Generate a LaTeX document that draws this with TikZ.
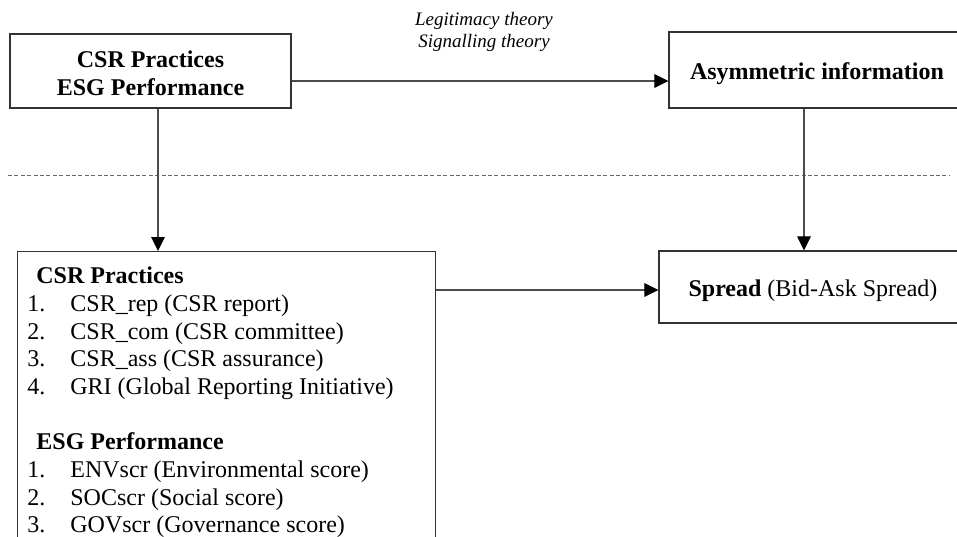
\documentclass[tikz,border=0pt]{standalone}
\usepackage{fontspec}
\setmainfont{Liberation Serif}
\usetikzlibrary{arrows.meta,calc}
\newcommand{\lowerby}[2]{\raisebox{-#1}[\height][\depth]{#2}}
\begin{document}
\begin{tikzpicture}[x=0.5pt,y=-0.5pt,
  box/.style={draw=black!80, line width=0.65pt, inner sep=0pt, font=\fontsize{12}{14}\selectfont},
  conn/.style={draw=black!70, line width=0.6pt, -{Triangle[length=7pt,width=6.8pt,fill=black,color=black]}},
  lbl/.style={font=\fontsize{12}{14}\selectfont, inner sep=0pt, anchor=base west},
  head/.style={lbl, font=\fontsize{12}{14}\selectfont\bfseries},
  theory/.style={font=\fontsize{9.5}{11}\selectfont\itshape, align=center, inner sep=0pt},
  sep/.style={draw=black!60, line width=0.5pt, dash pattern=on 2pt off 1.2pt}
]
\useasboundingbox (0,0) rectangle (957,536);
\clip (0,0) rectangle (957,536);

% boxes
\node[box, minimum width=140.5pt, minimum height=37pt, align=center, font=\fontsize{12}{14}\selectfont\bfseries] (src) at (150.5,71) {\lowerby{1.2pt}{CSR Practices}\\\lowerby{1.2pt}{ESG Performance}};
\node[box, minimum width=148pt, minimum height=38pt, font=\fontsize{12}{14}\selectfont\bfseries] (asy) at (817,70) {\lowerby{2pt}{Asymmetric information}};
\node[box, minimum width=154pt, minimum height=36pt] (spr) at (813,287) {\lowerby{2pt}{\textbf{Spread} (Bid-Ask Spread)}};
\node[box, minimum width=209pt, minimum height=160pt, anchor=north west] (big) at (17,251) {};

% theory label
\node[theory] (th) at (484,32) {Legitimacy theory\\Signalling theory};

% list contents
\node[head] (h1) at (36,283) {CSR Practices};
\node[lbl] (n1) at (27,311) {1.};  \node[lbl] (t1) at (70,311) {CSR\_rep (CSR report)};
\node[lbl] (n2) at (27,339) {2.};  \node[lbl] (t2) at (70,339) {CSR\_com (CSR committee)};
\node[lbl] (n3) at (27,366) {3.};  \node[lbl] (t3) at (70,366) {CSR\_ass (CSR assurance)};
\node[lbl] (n4) at (27,394) {4.};  \node[lbl] (t4) at (70,394) {GRI (Global Reporting Initiative)};
\node[head] (h2) at (36,449) {ESG Performance};
\node[lbl] (m1) at (27,477) {1.};  \node[lbl] (u1) at (70,477) {ENVscr (Environmental score)};
\node[lbl] (m2) at (27,505) {2.};  \node[lbl] (u2) at (70,505) {SOCscr (Social score)};
\node[lbl] (m3) at (27,532) {3.};  \node[lbl] (u3) at (70,532) {GOVscr (Governance score)};

% dashed separator
\coordinate (dl) at (8,175);
\coordinate (dr) at (950,175);
\draw[sep] (dl) -- (dr);

% connectors
\draw[conn] ($(src.east)+(0,10)$) -- ($(src.east -| asy.west)+(0,10)$);
\draw[conn] ($(src.south)+(7.5,0)$) -- ($(src.south |- big.north)+(7.5,0)$);
\draw[conn] ($(asy.south)+(-13,0)$) -- ($(asy.south |- spr.north)+(-13,0)$);
\draw[conn] ($(spr.west -| big.east)+(0,3)$) -- ($(spr.west)+(0,3)$);
\end{tikzpicture}
\end{document}
